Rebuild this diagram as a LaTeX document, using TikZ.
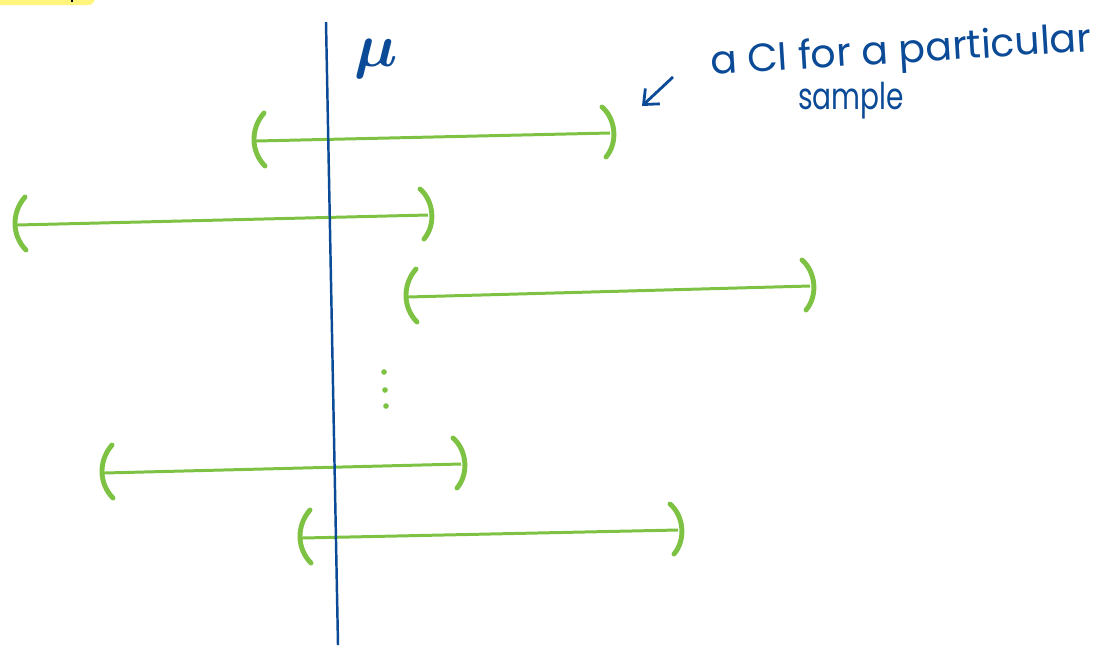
\documentclass[tikz,border=0pt]{standalone}
\usepackage{fontspec}
\setmainfont{Poppins}
\usetikzlibrary{arrows.meta}
\definecolor{muColor}{HTML}{0B4A96}
\definecolor{ciColor}{HTML}{7DC242}
\definecolor{markColor}{HTML}{FFF47C}

\begin{document}
\begin{tikzpicture}[x=0.02cm, y=-0.02cm, >={Straight Barb[length=7pt,width=12pt]}, every node/.style={font=\small}]
	\tikzset{
		ci/.style={ciColor, line width=1.7pt},
		paren/.style={ciColor, line width=2.8pt, line cap=round},
		meanline/.style={muColor, line width=1.4pt},
		hand/.style={text=muColor, inner sep=0pt},
		lparen/.pic={\draw[paren] (8,-28) .. controls (-6,-12) and (-5,11) .. (9,25);},
		rparen/.pic={\draw[paren] (-8,-26) .. controls (6,-14) and (8,10) .. (-4,24);}
	}
	\useasboundingbox (0,0) rectangle (1111,647);
	% highlight left over in the corner
	\fill[markColor, rounded corners=4pt] (-20,-20) rectangle (95,5);
	\draw[black, line width=1pt] (72,0) -- (72,2);
	% end points of the intervals
	\coordinate (l1) at (256,141); \coordinate (r1) at (610,133);
	\coordinate (l2) at (17,225);  \coordinate (r2) at (428,215);
	\coordinate (l3) at (408,297); \coordinate (r3) at (810,286);
	\coordinate (l4) at (104,473); \coordinate (r4) at (461,464);
	\coordinate (l5) at (302,538); \coordinate (r5) at (678,530);
	\draw[ci] (l1) -- (r1);
	\draw[ci] (l2) -- (r2);
	\draw[ci] (l3) -- (r3);
	\draw[ci] (l4) -- (r4);
	\draw[ci] (l5) -- (r5);
	\pic at (l1) {lparen}; \pic at (r1) {rparen};
	\pic at (l2) {lparen}; \pic at (r2) {rparen};
	\pic at (l3) {lparen}; \pic at (r3) {rparen};
	\pic at (l4) {lparen}; \pic at (r4) {rparen};
	\pic at (l5) {lparen}; \pic at (r5) {rparen};
	\fill[ciColor] (384,372) circle (1.6pt);
	\fill[ciColor] (385,390) circle (1.6pt);
	\fill[ciColor] (386,406) circle (1.6pt);
	% the true mean
	\coordinate (mutop) at (326,22);
	\coordinate (mubot) at (338,645);
	\draw[meanline] (mutop) -- (mubot);
	\node[hand, font=\Huge\boldmath, scale=1.4, transform shape] (mu) at (376,59) {$\mu$};
	% note
	\node[hand, font=\fontsize{22.5}{24}\selectfont, rotate=3.5] (note) at (901,53) {a CI for a particular};
	\node[hand, font=\fontsize{21}{22}\selectfont, xscale=0.76] (sample) at (851,101) {sample};
	\coordinate (tail) at (673,77);
	\coordinate (tip) at (642,106);
	\draw[->, muColor, line width=1.6pt] (tail) -- (tip);
\end{tikzpicture}
\end{document}
